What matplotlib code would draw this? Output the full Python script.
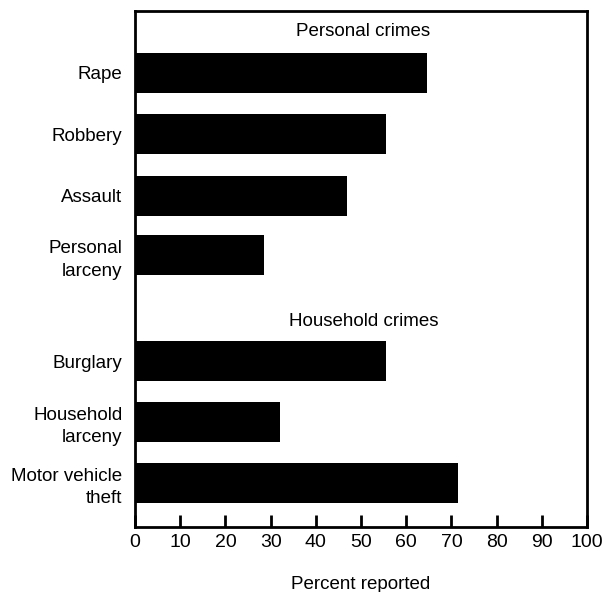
import matplotlib
matplotlib.use("Agg")
import matplotlib.pyplot as plt

categories = ["Rape", "Robbery", "Assault", "Personal\nlarceny",
              "Burglary", "Household\nlarceny", "Motor vehicle\ntheft"]
values = [64.5, 55.5, 47, 28.5, 55.5, 32, 71.5]
positions = [0, 1, 2, 2.97, 4.69, 5.67, 6.67]
group_labels = ["Personal crimes", "Household crimes"]
group_label_pos = [-0.66, 4.05]
x_ticks = list(range(0, 101, 10))

plt.rcParams['font.family'] = ['Liberation Sans', 'DejaVu Sans']

W, H = 603, 592
fig = plt.figure(figsize=(W / 100, H / 100), dpi=100)
left, right, top, bottom = 135, 587, 11, 527
ax = fig.add_axes([left / W, 1 - bottom / H, (right - left) / W, (bottom - top) / H])

ax.barh(positions, values, height=0.65, color='black')
ax.set_xlim(0, 100)
ax.set_ylim(7.38, -1.0)

ax.set_xticks(x_ticks)
ax.set_xticklabels([str(t) for t in x_ticks], fontsize=14)
ax.tick_params(axis='x', direction='in', length=9, width=2, pad=5, color='black')
ax.set_yticks(positions)
ax.set_yticklabels(categories, fontsize=13.5, linespacing=1.4)
ax.tick_params(axis='y', length=0, pad=9)

for s in ax.spines.values():
    s.set_linewidth(2)
    s.set_color('black')

for lbl, yp in zip(group_labels, group_label_pos):
    ax.text(50.5, yp, lbl, ha='center', va='center', fontsize=13.5)

ax.set_xlabel("Percent reported", fontsize=13.5, labelpad=18)

fig.savefig("out.png", dpi=100, facecolor='white')
